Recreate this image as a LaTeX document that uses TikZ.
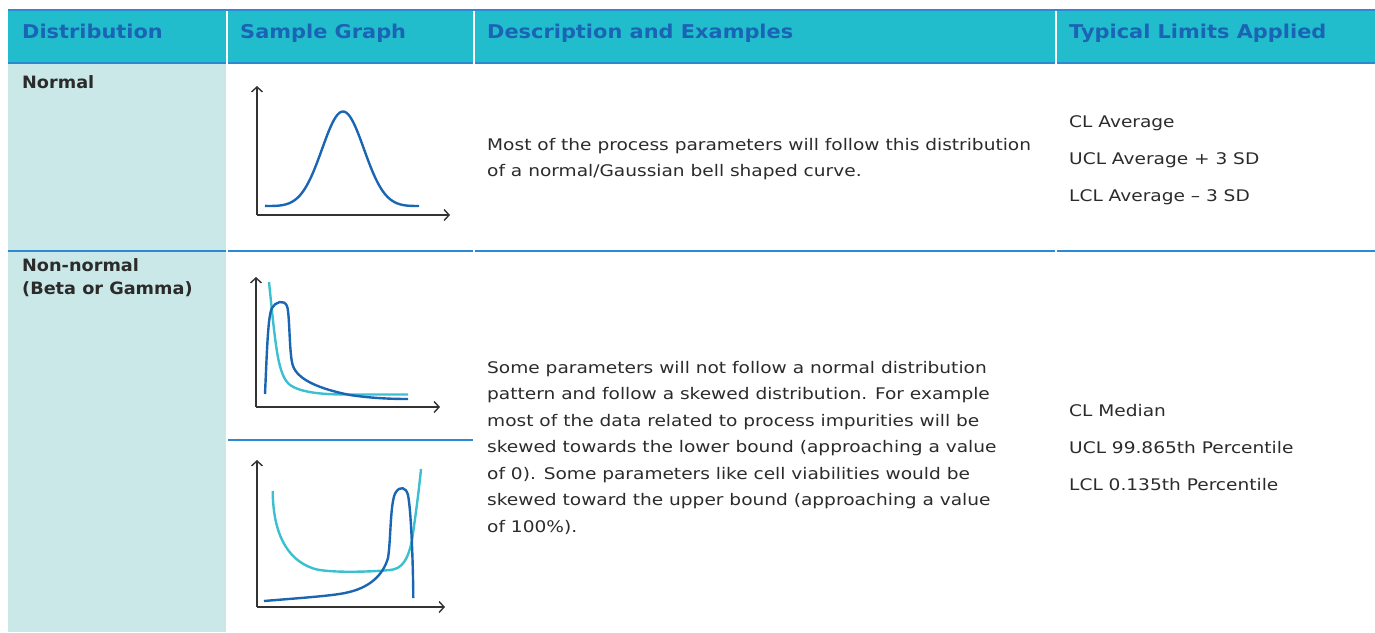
\documentclass[tikz,border=0pt]{standalone}
\usepackage{fontspec}
\setmainfont[FakeStretch=1.16]{DejaVu Sans}
\newfontfamily\hdrfont[FakeStretch=1.1]{DejaVu Sans}
\newfontfamily\lblfont[FakeStretch=1.04]{DejaVu Sans}
\usetikzlibrary{arrows.meta}
\definecolor{hdrbg}{HTML}{22BDCD}
\definecolor{hdrtxt}{HTML}{1B63B5}
\definecolor{firstcol}{HTML}{C9E8E7}
\definecolor{rule}{HTML}{2D8AD2}
\definecolor{bodytxt}{HTML}{2B2B2B}
\definecolor{axis}{HTML}{333333}
\definecolor{darkcurve}{HTML}{1A66B3}
\definecolor{lightcurve}{HTML}{3BC0D0}
\tikzset{
  hdr/.style={anchor=base west, inner sep=0pt, font=\hdrfont\fontsize{19}{22}\selectfont\bfseries, text=hdrtxt},
  rowlabel/.style={anchor=base west, inner sep=0pt, align=left, font=\lblfont\fontsize{17}{23}\selectfont\bfseries, text=bodytxt},
  desc/.style={anchor=base west, inner sep=0pt, align=left, font=\fontsize{16}{26.5}\selectfont, text=bodytxt},
  limits/.style={anchor=base west, inner sep=0pt, align=left, font=\fontsize{16}{37}\selectfont, text=bodytxt},
  cellrule/.style={draw=rule, line width=1.6pt},
  axisline/.style={draw=axis, line width=1.4pt, -{Straight Barb[length=5pt,width=11pt]}},
  dcurve/.style={draw=darkcurve, line width=2.4pt},
  lcurve/.style={draw=lightcurve, line width=2.4pt}
}
\begin{document}
\begin{tikzpicture}[x=1pt,y=-1pt]
\useasboundingbox (0,0) rectangle (1375,632);

% header band and first column
\fill[hdrbg] (8,10) rectangle (1375,63);
\fill[firstcol] (8,63) rectangle (226,632);
\draw[cellrule] (8,10) -- (1375,10);
\foreach \xa/\xb in {8/226, 228/473, 475/1055, 1057/1375}{
  \draw[cellrule] (\xa,63) -- (\xb,63);
  \draw[cellrule] (\xa,251) -- (\xb,251);
}
\draw[cellrule] (228,440) -- (473,440);
\foreach \xs in {227, 474, 1056}
  \fill[white] (\xs-1,11) rectangle (\xs+1,64);

% header texts
\node[hdr] (h1) at (22,38) {Distribution};
\node[hdr] (h2) at (240,38) {Sample Graph};
\node[hdr] (h3) at (487,38) {Description and Examples};
\node[hdr] (h4) at (1069,38) {Typical Limits Applied};

% row labels (multi-line nodes sit on the baseline of their last line)
\node[rowlabel] (r1) at (22,88) {Normal};
\node[rowlabel] (r2) at (22,294) {Non-normal\\(Beta or Gamma)};

% descriptions
\node[desc] (d1) at (487,176.5) {Most of the process parameters will follow this distribution\\of a normal/Gaussian bell shaped curve.};
\node[desc] (d2) at (487,532) {Some parameters will not follow a normal distribution\\pattern and follow a skewed distribution. For example\\most of the data related to process impurities will be\\skewed towards the lower bound (approaching a value\\of 0). Some parameters like cell viabilities would be\\skewed toward the upper bound (approaching a value\\of 100\%).};

% limits
\node[limits] (l1) at (1069,201) {CL Average\\UCL Average + 3 SD\\LCL Average – 3 SD};
\node[limits] (l2) at (1069,490) {CL Median\\UCL 99.865th Percentile\\LCL 0.135th Percentile};

% normal graph
\coordinate (o1) at (257,215);
\draw[axisline] (o1) -- (257,86);
\draw[axisline] (o1) -- (450,215);
\draw[dcurve] plot[domain=265:419, samples=90, smooth] (\x, {207.5 - 0.00025*(\x-343)*(\x-343) - 96*exp(-0.5*((\x-343)/21)*((\x-343)/21))});

% right-skewed graph
\coordinate (o2) at (256,407);
\draw[axisline] (o2) -- (256,277);
\draw[axisline] (o2) -- (440,407);
\draw[lcurve] (269,282) .. controls (276,350) and (278,375) .. (290,385)
  .. controls (300,392) and (320,394.5) .. (345,394.5) -- (408,394.5);
\draw[dcurve] (265,394) .. controls (267,350) and (268,315) .. (272,308)
  .. controls (275,302) and (284,299) .. (287,306)
  .. controls (290,315) and (289,355) .. (293,366)
  .. controls (298,380) and (320,389) .. (350,395)
  .. controls (370,398) and (390,399) .. (408,399);

% left-skewed graph
\coordinate (o3) at (257,607);
\draw[axisline] (o3) -- (257,460);
\draw[axisline] (o3) -- (445,607);
\draw[lcurve] (272.7,491) .. controls (273,530) and (285,560) .. (315,569)
  .. controls (330,573) and (370,572) .. (390,570)
  .. controls (402,569) and (408,560) .. (412,540)
  .. controls (415,520) and (419,490) .. (421,469);
\draw[dcurve] (264,601) .. controls (300,598) and (330,596) .. (345,593)
  .. controls (370,588) and (383,575) .. (388,558)
  .. controls (391,540) and (390,500) .. (396,492)
  .. controls (400,486) and (406,487) .. (408,495)
  .. controls (411,510) and (413,560) .. (413.3,598);
\end{tikzpicture}
\end{document}
